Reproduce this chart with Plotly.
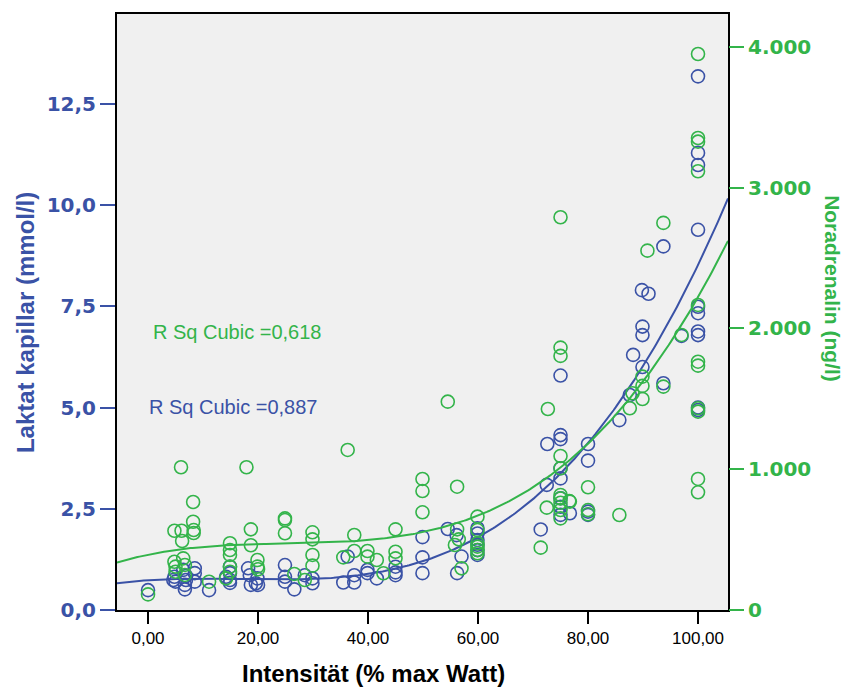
import numpy as np
import plotly.graph_objects as go

BLUE = "#3A52A6"
GREEN = "#33B44A"

# Laktat kapillar (mmol/l) vs. Intensität (% max Watt)
intensity_lac = [0, 4.6, 4.8, 5.0, 6.4, 6.7, 6.9, 6.9, 8.5, 8.5, 8.5, 6.7, 11.1,
                 14.9, 14.9, 14.9, 14.9, 14.2,
                 18.2, 18.5, 18.7, 19.9, 20.0, 19.6,
                 24.9, 24.9, 24.9, 26.6, 28.5, 29.9, 29.9,
                 35.5, 36.3, 37.5, 37.5,
                 39.9, 39.9, 41.6, 45.0, 45.0, 45.0,
                 49.9, 49.9, 49.9,
                 54.5, 56.1, 57.0, 56.2,
                 59.9, 59.9, 59.9, 59.9, 59.9, 59.9,
                 71.4, 72.6, 72.5,
                 75, 75, 75, 75, 75, 75, 75, 75, 76.7,
                 80, 80, 80, 80,
                 85.7, 88.2, 87.6,
                 89.9, 89.9, 89.9, 89.8, 91.0,
                 93.7, 93.7, 97.0,
                 100, 100, 100, 100, 100, 100, 100, 100, 100, 100]
lactate = [0.49, 0.74, 0.82, 0.70, 0.99, 0.51, 0.74, 0.84, 1.03, 0.91, 0.70, 0.62, 0.49,
           1.07, 0.91, 0.74, 0.67, 0.82,
           1.03, 0.86, 0.62, 0.78, 0.62, 0.66,
           1.11, 0.82, 0.70, 0.51, 0.86, 0.78, 0.66,
           0.68, 1.32, 0.86, 0.68,
           0.91, 0.99, 0.78, 1.07, 0.93, 0.86,
           1.80, 1.30, 0.91,
           2.00, 1.85, 1.32, 0.91,
           2.02, 1.89, 1.73, 1.61, 1.48, 1.36,
           1.99, 4.10, 3.09,
           4.32, 4.22, 3.50, 3.25, 2.76, 2.55, 2.35, 5.79, 2.39,
           4.10, 3.69, 2.43, 2.35,
           4.69, 6.30, 5.31,
           7.00, 6.79, 6.00, 7.90, 7.81,
           5.60, 8.98, 6.77,
           13.18, 11.29, 10.99, 9.39, 7.49, 7.33, 6.88, 6.79, 5.00, 4.94]

# Noradrenalin (ng/l) vs. Intensität (% max Watt)
intensity_nor = [0, 4.8, 6.1, 6.2, 8.2, 8.2, 8.3, 8.3, 6.0, 4.8, 5.0, 6.4, 6.7, 5.0, 6.7,
                 11.1,
                 14.9, 14.9, 14.9, 14.9, 14.2, 14.9,
                 17.9, 18.7, 18.7, 19.9, 19.9, 20.0,
                 24.9, 24.9, 24.9, 26.6, 28.5, 29.9, 29.9, 29.9, 29.9,
                 36.3, 35.5, 37.5, 37.5,
                 39.9, 39.9, 41.6, 42.8,
                 45.0, 45.0, 45.0,
                 49.9, 49.9, 49.9,
                 54.5, 56.2, 56.2, 55.8, 57.0, 56.5,
                 59.9, 59.9, 59.9, 59.9, 59.9, 59.9,
                 71.4, 72.5, 72.7,
                 75, 75, 75, 75, 75, 75, 75, 75, 75, 75, 76.6, 76.7,
                 80, 80, 80,
                 85.7, 87.6, 88.1,
                 89.9, 89.9, 89.9, 90.8,
                 93.7, 93.7, 97.0,
                 100, 100, 100, 100, 100, 100, 100, 100, 100, 100, 100]
noradrenalin = [111, 563, 563, 490, 767, 627, 568, 547, 1014, 343, 308, 367, 320, 272, 249,
                201,
                474, 426, 391, 308, 225, 272,
                1014, 573, 460, 355, 308, 289,
                651, 639, 545, 256, 213, 552, 502, 391, 315,
                1137, 374, 533, 419,
                419, 379, 355, 261,
                573, 414, 367,
                931, 845, 694,
                1480, 876, 573, 462, 296, 502,
                663, 568, 474, 450, 426, 403,
                443, 727, 1428,
                2790, 1864, 1805, 1094, 1007, 817, 793, 762, 710, 651, 774, 770,
                872, 710, 680,
                675, 1433, 1540,
                1658, 1592, 1499, 2553,
                2750, 1587, 1954,
                3950, 3353, 3327, 3117, 2167, 1764, 1736, 1433, 1409, 931, 836]

x_ticks = [0, 20, 40, 60, 80, 100]
lac_ticks = [0, 2.5, 5.0, 7.5, 10.0, 12.5]
nor_ticks = [0, 1000, 2000, 3000, 4000]
r2_lac = "0,887"
r2_nor = "0,618"

x_range = [-5.64, 105.45]
lac_range = [0, 14.72]
nor_range = [0, 4234]

# cubic regression fits (as in the original analysis)
xs = np.linspace(x_range[0], x_range[1], 300)
fit_lac = np.polyval(np.polyfit(intensity_lac, lactate, 3), xs)
fit_nor = np.polyval(np.polyfit(intensity_nor, noradrenalin, 3), xs)

fig = go.Figure()
fig.add_trace(go.Scatter(x=intensity_lac, y=lactate, mode="markers",
                         marker=dict(symbol="circle-open", size=13, color=BLUE,
                                     line=dict(width=1.6, color=BLUE)),
                         showlegend=False, yaxis="y"))
fig.add_trace(go.Scatter(x=xs, y=fit_lac, mode="lines", line=dict(color=BLUE, width=2),
                         showlegend=False, yaxis="y"))
fig.add_trace(go.Scatter(x=intensity_nor, y=noradrenalin, mode="markers",
                         marker=dict(symbol="circle-open", size=13, color=GREEN,
                                     line=dict(width=1.6, color=GREEN)),
                         showlegend=False, yaxis="y2"))
fig.add_trace(go.Scatter(x=xs, y=fit_nor, mode="lines", line=dict(color=GREEN, width=2),
                         showlegend=False, yaxis="y2"))

fig.update_layout(
    width=848, height=688,
    margin=dict(l=117, r=120, t=14, b=78),
    paper_bgcolor="white", plot_bgcolor="#F0F0F0",
    separators=",.",
    xaxis=dict(range=x_range, tickvals=x_ticks, tickformat=".2f",
               ticks="outside", ticklen=12, tickwidth=2, tickcolor="black",
               showline=True, linecolor="black", linewidth=2, mirror=True,
               showgrid=False, zeroline=False,
               tickfont=dict(family="Liberation Sans, Arial", size=17, color="black")),
    yaxis=dict(range=lac_range, tickvals=lac_ticks, tickformat=".1f",
               ticks="outside", ticklen=15, tickwidth=2, tickcolor=BLUE,
               showline=True, linecolor="black", linewidth=2, mirror=True,
               showgrid=False, zeroline=False,
               tickfont=dict(family="DejaVu Sans", size=20, color=BLUE, weight="bold")),
    yaxis2=dict(range=nor_range, tickvals=nor_ticks, tickformat=",d",
                overlaying="y", side="right",
                ticks="outside", ticklen=15, tickwidth=2, tickcolor=GREEN,
                showline=False, showgrid=False, zeroline=False,
                tickfont=dict(family="DejaVu Sans", size=20, color=GREEN, weight="bold")),
    annotations=[
        dict(text="Intensität (% max Watt)", xref="paper", yref="paper",
             x=0.4206, y=-0.107, xanchor="center", yanchor="middle", showarrow=False,
             font=dict(family="Liberation Sans, Arial", size=24, color="black", weight="bold")),
        dict(text="Laktat kapillar (mmol/l)", xref="paper", yref="paper",
             x=-0.1506, y=0.483, xanchor="center", yanchor="middle", showarrow=False,
             textangle=-90,
             font=dict(family="Liberation Sans, Arial", size=24, color=BLUE, weight="bold")),
        dict(text="Noradrenalin (ng/l)", xref="paper", yref="paper",
             x=1.1719, y=0.540, xanchor="center", yanchor="middle", showarrow=False,
             textangle=90,
             font=dict(family="Liberation Sans, Arial", size=21, color=GREEN, weight="bold")),
        dict(text="R Sq Cubic =" + r2_nor, xref="paper", yref="paper",
             x=0.0556, y=0.4664, xanchor="left", yanchor="middle", showarrow=False,
             font=dict(family="Liberation Sans, Arial", size=20, color=GREEN)),
        dict(text="R Sq Cubic =" + r2_lac, xref="paper", yref="paper",
             x=0.0491, y=0.3406, xanchor="left", yanchor="middle", showarrow=False,
             font=dict(family="Liberation Sans, Arial", size=20, color=BLUE)),
    ],
)

fig.write_html("out.html")
